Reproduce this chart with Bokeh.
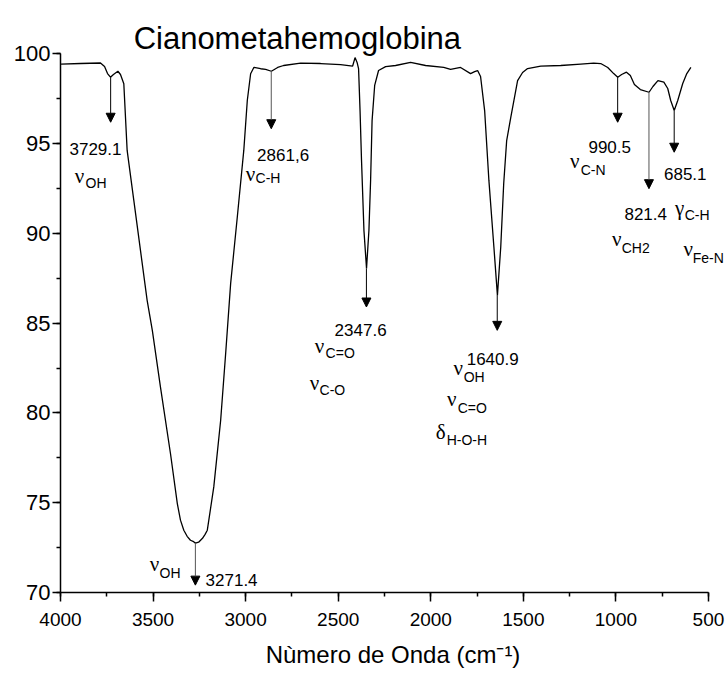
from bokeh.plotting import figure
from bokeh.models import Range1d, FixedTicker, Label, Arrow, NormalHead
from bokeh.embed import file_html
from bokeh.resources import INLINE

# ---- spectrum (wavenumber cm-1, transmittance %) ----
wavenumber = [3997, 3892, 3784, 3762, 3746, 3730, 3714, 3690, 3676, 3658, 3640, 3604,
              3568, 3532, 3504, 3460, 3406, 3369, 3352, 3334, 3316, 3298, 3281, 3271,
              3254, 3233, 3219, 3207, 3172,
              3135, 3108, 3081, 3045, 3010, 2991, 2973, 2955, 2919, 2892, 2861, 2827,
              2795, 2703, 2595, 2487, 2422, 2409, 2398, 2390, 2382, 2374, 2361, 2347,
              2334, 2325, 2317, 2303, 2282, 2244, 2190, 2109, 2028, 1930, 1893, 1839,
              1785, 1763, 1747, 1731, 1709, 1686, 1659, 1640, 1622, 1606, 1590, 1568,
              1531, 1504, 1477, 1406, 1298, 1190, 1120, 1082, 1044, 1012, 990, 969,
              943, 922, 900, 868, 821, 800, 773, 741, 720, 704, 685, 666, 639, 617, 595]
transmittance = [99.43, 99.46, 99.49, 99.29, 98.90, 98.70, 98.85, 99.03, 98.85, 98.33, 94.62, 91.84,
                 89.05, 86.27, 84.60, 81.44, 77.74, 74.95, 74.03, 73.47, 73.13, 72.91, 72.83, 72.75,
                 72.80, 73.02, 73.24, 73.47, 75.88,
                 79.58, 83.30, 87.20, 90.91, 94.62, 97.40, 98.89, 99.25, 99.17, 99.13, 99.03, 99.24,
                 99.35, 99.48, 99.46, 99.40, 99.32, 99.79, 99.52, 99.18, 96.84, 94.06, 90.17, 88.05,
                 90.17, 92.95, 96.28, 98.24, 99.07, 99.29, 99.35, 99.53, 99.35, 99.25, 99.13, 99.24,
                 98.90, 99.01, 99.07, 98.74, 96.84, 92.95, 89.24, 86.55, 89.24, 92.78, 95.17, 96.45,
                 98.51, 98.96, 99.18, 99.32, 99.35, 99.43, 99.48, 99.46, 99.24, 98.90, 98.70, 98.85,
                 98.98, 98.79, 98.29, 98.01, 97.86, 98.18, 98.51, 98.42, 98.07, 97.40, 96.84, 97.40,
                 98.35, 98.90, 99.25]

# ---- peak markers ----
peak_position = [3729.1, 3271.4, 2861.6, 2347.6, 1640.9, 990.5, 821.4, 685.1]
peak_labels = ["3729.1", "3271.4", "2861,6", "2347.6", "1640.9", "990.5", "821.4", "685.1"]
arrow_from = [98.70, 72.75, 99.03, 88.05, 86.55, 98.70, 97.86, 96.84]
arrow_to = [96.19, 70.41, 95.83, 85.90, 84.60, 96.19, 92.49, 94.52]
arrow_colors = ["black", "#555555", "#555555", "black", "black", "black", "#555555", "black"]

x_ticks = [4000, 3500, 3000, 2500, 2000, 1500, 1000, 500]
y_ticks = [70, 75, 80, 85, 90, 95, 100]

# ---- label placement (data coordinates) ----
num_x = [3810.9, 3076.0, 2797.7, 2378.9, 1665.6, 1033.4, 838.9, 625.4]
num_y = [94.72, 70.70, 94.35, 84.61, 83.03, 94.81, 91.10, 93.33]

greek_sym = ["ν", "ν", "ν", "ν", "ν", "ν", "ν", "δ", "ν", "γ", "ν", "ν"]
greek_sub = ["OH", "OH", "C-H", "C=O", "C-O", "OH", "C=O", "H-O-H", "C-N", "C-H", "CH2", "Fe-N"]
greek_x = [3897.3, 3492.1, 2973.3, 2600.5, 2627.5, 1852.1, 1887.2, 1946.6, 1222.5, 655.2, 995.6, 609.3]
greek_y = [93.17, 71.58, 93.28, 83.71, 81.65, 82.48, 80.76, 78.92, 94.01, 91.39, 89.66, 89.11]
sub_x = [3864.9, 3465.0, 2946.3, 2568.0, 2600.5, 1822.4, 1854.8, 1914.2, 1190.1, 628.2, 968.6, 585.0]
sub_y = [92.78, 71.07, 93.06, 83.32, 81.26, 81.98, 80.26, 78.48, 93.51, 91.00, 89.16, 88.61]

SANS = "Liberation Sans"
SERIF = "Liberation Serif"

# frame spans the whole canvas width/top so that the title and edge labels are not clipped;
# the axes themselves are bounded to 4000-500 and 70-100
p = figure(width=725, height=674,
           x_range=Range1d(4000, 408), y_range=Range1d(70, 102.97),
           output_backend="svg", toolbar_location=None,
           min_border_left=60, min_border_right=0,
           min_border_top=0, min_border_bottom=82)
p.outline_line_color = None
p.xgrid.visible = False
p.ygrid.visible = False
p.background_fill_color = "white"
p.border_fill_color = "white"

p.line(wavenumber, transmittance, line_color="black", line_width=1.3)

for xp, y0, y1, c in zip(peak_position, arrow_from, arrow_to, arrow_colors):
    p.add_layout(Arrow(x_start=xp, y_start=y0, x_end=xp, y_end=y1,
                       line_color=c, line_width=1,
                       end=NormalHead(size=9, fill_color="black", line_color="black", line_width=1)))

for t, x, y in zip(peak_labels, num_x, num_y):
    p.add_layout(Label(x=x, y=y, text=t, text_align="center", text_baseline="alphabetic",
                       text_font=SANS, text_font_size="17px", text_color="black"))

for s, x, y in zip(greek_sym, greek_x, greek_y):
    p.add_layout(Label(x=x, y=y, text=s, text_align="center", text_baseline="alphabetic",
                       text_font=SERIF, text_font_size="21px", text_color="black"))

for s, x, y in zip(greek_sub, sub_x, sub_y):
    p.add_layout(Label(x=x, y=y, text=s, text_align="left", text_baseline="alphabetic",
                       text_font=SANS, text_font_size="14px", text_color="black"))

# title
p.add_layout(Label(x=3605, y=100.85, text="Cianometahemoglobina", text_align="left",
                   text_baseline="alphabetic", text_font=SANS, text_font_size="31px",
                   text_color="black"))

# axes
p.xaxis.ticker = FixedTicker(ticks=x_ticks, minor_ticks=[4000 - 250 * i for i in range(15)])
p.yaxis.ticker = FixedTicker(ticks=y_ticks, minor_ticks=[70 + 2.5 * i for i in range(13)])
p.xaxis.bounds = (500, 4000)
p.yaxis.bounds = (70, 100)
for ax in (p.xaxis[0], p.yaxis[0]):
    ax.axis_line_color = "black"
    ax.axis_line_width = 1.5
    ax.major_tick_line_color = "black"
    ax.major_tick_line_width = 1.5
    ax.minor_tick_line_color = "black"
    ax.minor_tick_line_width = 1.5
    ax.major_tick_in = 0
    ax.minor_tick_in = 0
    ax.major_label_text_font = SANS
    ax.major_label_text_color = "black"

p.xaxis.major_tick_out = 9
p.xaxis.minor_tick_out = 4
p.xaxis.major_label_text_font_size = "19px"
p.xaxis.major_label_standoff = 11
p.xaxis.axis_label = "Nùmero de Onda (cm⁻¹)"
p.xaxis.axis_label_text_font = SANS
p.xaxis.axis_label_text_font_size = "24px"
p.xaxis.axis_label_text_font_style = "normal"
p.xaxis.axis_label_text_color = "black"
p.xaxis.axis_label_standoff = 12

p.yaxis.major_tick_out = 8
p.yaxis.minor_tick_out = 4
p.yaxis.major_label_text_font_size = "22px"
p.yaxis.major_label_standoff = 2

open("out.html", "w").write(file_html(p, INLINE))
